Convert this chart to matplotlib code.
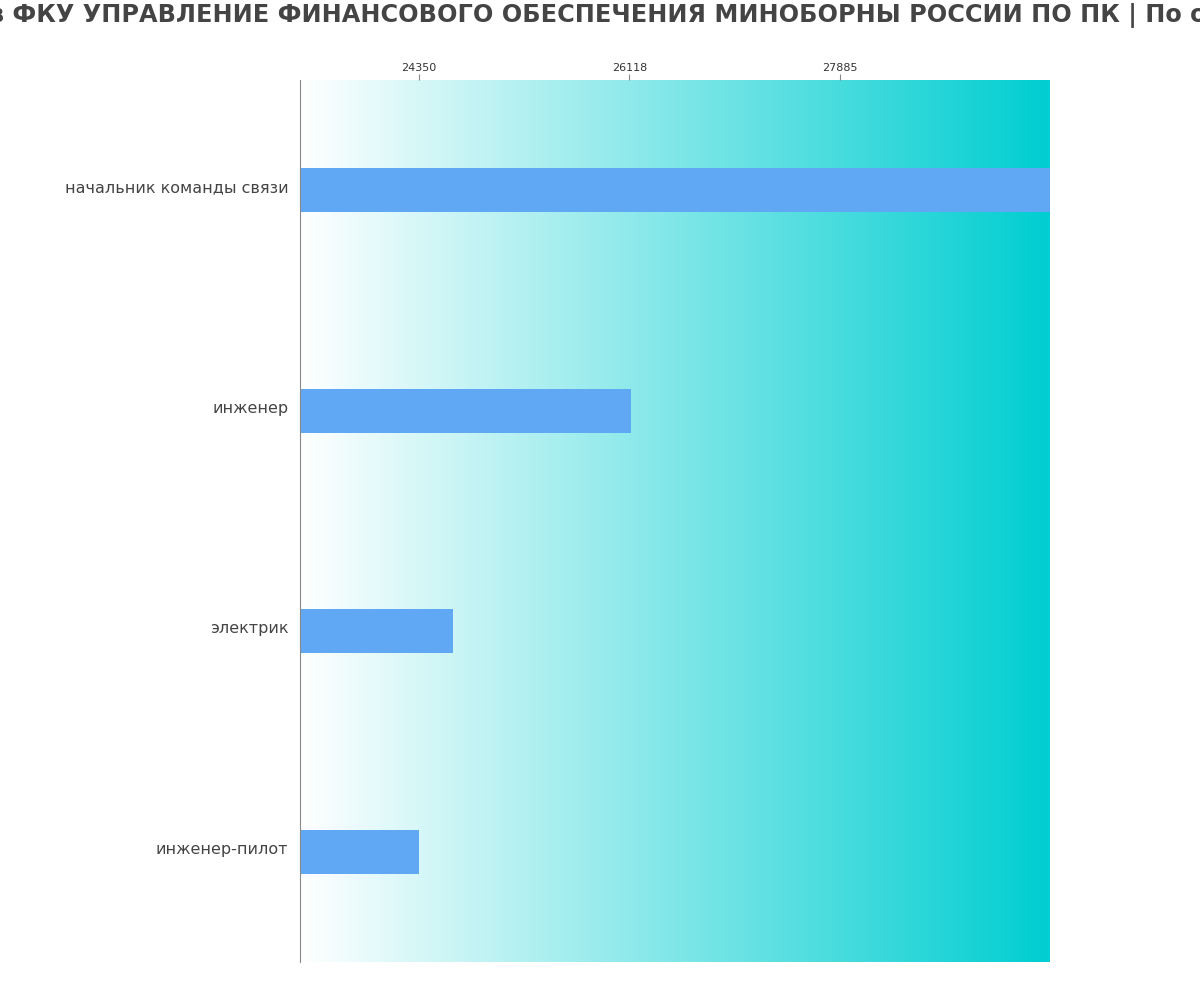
import numpy as np
import matplotlib
matplotlib.use("Agg")
import matplotlib.pyplot as plt
import matplotlib.transforms as mtransforms
from matplotlib.colors import LinearSegmentedColormap

# данные с картинки
positions = ["начальник команды связи", "инженер", "электрик", "инженер-пилот"]
salaries = [29650, 26130, 24640, 24350]
tick_values = [24350, 26118, 27885]
x_min, x_max = 23351, 29650

title = ("Зарплаты в ФКУ УПРАВЛЕНИЕ ФИНАНСОВОГО ОБЕСПЕЧЕНИЯ МИНОБОРНЫ РОССИИ ПО ПК"
         " | По отраслям")

fig = plt.figure(figsize=(12, 10), dpi=100)
ax = fig.add_axes([0.25, 0.038, 0.625, 0.882])

# фон-градиент
cmap = LinearSegmentedColormap.from_list("bg", ["#ffffff", "#00CED1"])
grad = np.linspace(0, 1, 256).reshape(1, -1)
ax.imshow(grad, aspect="auto", cmap=cmap, extent=[x_min, x_max, 3.5, -0.5],
          zorder=0, interpolation="bicubic")

y = np.arange(len(positions))
ax.barh(y, [s - x_min for s in salaries], left=x_min, height=0.2,
        color="#61A8F4", zorder=2)

ax.set_xlim(x_min, x_max)
ax.set_ylim(3.5, -0.5)
ax.set_yticks(y)
ax.set_yticklabels(positions, fontsize=11.5, color="#444444")
ax.tick_params(axis="y", length=0, pad=8.5)
# подписи чуть выше центра полос, как в оригинале
shift = mtransforms.ScaledTranslation(0, 4 / 100, fig.dpi_scale_trans)
for lbl in ax.get_yticklabels():
    lbl.set_transform(lbl.get_transform() + shift)

ax.xaxis.tick_top()
ax.set_xticks(tick_values)
ax.set_xticklabels([str(v) for v in tick_values], fontsize=8, color="#333333")
ax.tick_params(axis="x", length=4, color="#888888", pad=1)

for side in ["right", "bottom", "top"]:
    ax.spines[side].set_visible(False)
ax.spines["left"].set_color("#888888")

fig.text(0.485, 0.985, title, ha="center", va="center", fontsize=17.3,
         fontweight="bold", color="#444444")

fig.savefig("out.png", dpi=100)
